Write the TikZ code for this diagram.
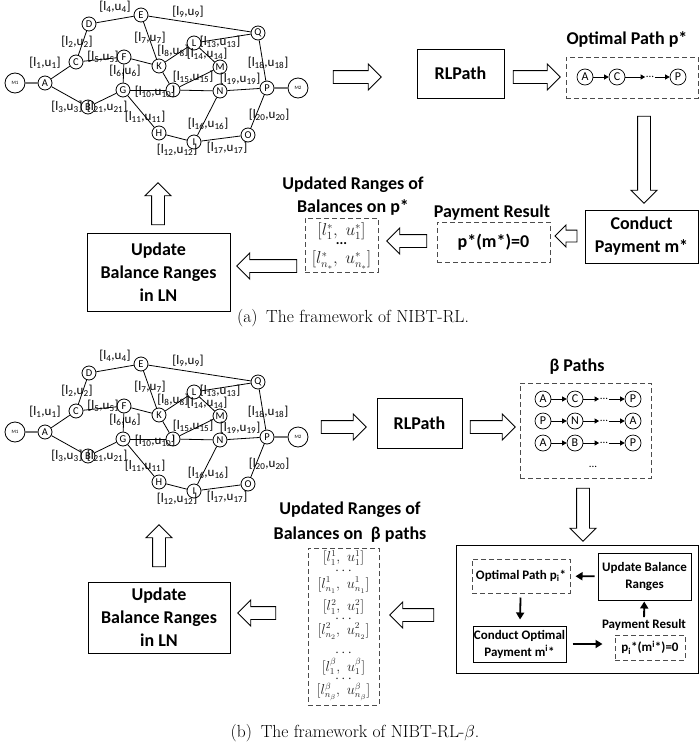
\documentclass[tikz,border=0pt]{standalone}
\usepackage{fontspec}
\newfontfamily\calibri{Carlito}
\usetikzlibrary{shapes.arrows,arrows.meta}

% lightning network with balance ranges, #1 = name prefix, #2 = vertical shift
\newcommand{\drawln}[2]{%
\begin{scope}[shift={(0,#2)}]
%% nodes or vertices
\foreach \nodename/\x/\y in {A/45/83, B/88/107, C/76/62, D/89/24, E/141/15, F/124/57, G/123/90, H/159/133, I/194/142, J/173/90, K/159/66, L/194/43, M/220/67, N/220/91, O/248/135, P/267/88, Q/258/33}
{
  \node (#1\nodename) at (\x,\y) [nodeDecorate] {\nodename};
}
\node (#1M1) at (15,83) [endDecorate] {M1};
\node (#1M2) at (298,88) [endDecorate] {M2};
%% edges or lines
\path
\foreach \startnode/\endnode in {A/C, C/D, D/E, E/Q, E/K, A/B, B/G, C/F, F/G, F/K, K/L, L/Q, L/M, K/J, J/M, G/J, J/N, N/P, Q/P, P/O, G/H, H/I, I/O, I/N}
{
  (#1\startnode) edge[lineDecorate] (#1\endnode)
};
\path (#1M1) edge[endLine] (#1A)
      (#1P) edge[endLine] (#1M2);
%% balance ranges of the channels
\foreach \i/\x/\y in {1/45/63, 2/77/42, 3/67/107, 4/115/7, 5/103/57, 6/125/71, 7/150/38, 8/173/51, 9/188/12, 10/155/92, 11/145/117, 12/177/150, 13/220/42, 14/207/54, 15/193/77, 16/208/124, 17/227/148, 18/268/63, 19/240/79, 20/269/115, 21/107/107}
{
  \node (#1lab\i) at (\x,\y) [labelDecorate] {[l\textsubscript{\i},u\textsubscript{\i}]};
}
\end{scope}}

\begin{document}
\begin{tikzpicture}
[x=1pt,y=-1pt,%
  lineDecorate/.style={-,line width=0.8pt},%
  endLine/.style={-,line width=1.6pt,black!55},%
  nodeDecorate/.style={shape=circle,inner sep=0pt,minimum size=14pt,draw,line width=0.8pt,font=\calibri\fontsize{10.5}{10.5}\selectfont},%
  endDecorate/.style={shape=circle,inner sep=0pt,minimum size=20pt,draw,line width=0.8pt,font=\calibri\fontsize{5}{5}\selectfont},%
  labelDecorate/.style={inner sep=0pt,font=\calibri\fontsize{13}{13}\selectfont},%
  boxDecorate/.style={draw,line width=1pt,inner sep=0pt,align=center,font=\calibri\bfseries\fontsize{18}{23}\selectfont},%
  dashDecorate/.style={boxDecorate,dash pattern=on 5pt off 3pt,draw=black!70},%
  titleDecorate/.style={inner sep=0pt,align=center,font=\calibri\bfseries\fontsize{18}{23}\selectfont},%
  smallBox/.style={boxDecorate,font=\calibri\bfseries\fontsize{13}{17}\selectfont},%
  dashSmall/.style={smallBox,dash pattern=on 5pt off 3pt,draw=black!70},%
  smallTitle/.style={titleDecorate,font=\calibri\bfseries\fontsize{13}{17}\selectfont},%
  pathNode/.style={shape=circle,inner sep=0pt,minimum size=16pt,draw,line width=0.7pt,font=\calibri\fontsize{12}{12}\selectfont},%
  dotsNode/.style={inner sep=0.5pt,font=\calibri\fontsize{11}{11}\selectfont},%
  smallArrow/.style={-{Triangle[length=4.5pt,width=5pt]},line width=0.8pt},%
  solidArrow/.style={-{Triangle[length=7pt,width=8pt]},line width=1.8pt},%
  hollowArrow/.style={single arrow,draw,line width=0.9pt,inner xsep=0pt,inner ysep=6pt,single arrow head extend=6.5pt,minimum height=#1},%
  rangeText/.style={inner sep=0pt,text=black!85,font=\fontsize{16}{16}\selectfont},%
  rangeDots/.style={inner sep=0pt,font=\calibri\bfseries\fontsize{14}{14}\selectfont},%
  rangeSmall/.style={inner sep=0pt,text=black!85,font=\fontsize{13.5}{13.5}\selectfont},%
  captionText/.style={inner sep=0pt,font=\fontsize{17.5}{17.5}\selectfont}]
\useasboundingbox (0,0) rectangle (700,747);
%% (a) the framework of NIBT-RL
\drawln{a}{0}
\node (arrA1) at (354,77) [hollowArrow=48pt] {};
\node (rlA) at (460.5,73.5) [boxDecorate,minimum width=87pt,minimum height=49pt] {RLPath};
\node (arrA2) at (533.5,77) [hollowArrow=47pt] {};
\node (optTitleA) at (627,39) [titleDecorate] {Optimal Path p*};
\node (optA) at (632,77.5) [dashDecorate,minimum width=132pt,minimum height=41pt] {};
\foreach \name/\x/\txt in {s/585/A, t/617/C, e/678/P}
{
  \node (optA\name) at (\x,77) [pathNode] {\txt};
}
\node (optAdots) at (650,77) [dotsNode] {...};
\draw[smallArrow] (optAs) -- (optAt);
\draw[smallArrow] (optAt) -- (optAdots);
\draw[smallArrow] (optAdots) -- (optAe);
\node (arrA3) at (644,156.5) [hollowArrow=87pt,rotate=-90] {};
\node (conA) at (641.5,236.5) [boxDecorate,minimum width=113pt,minimum height=53pt] {Conduct\\Payment m*};
\node (arrA4) at (569,236) [hollowArrow=22pt,inner ysep=5.5pt,single arrow head extend=5pt,rotate=180] {};
\node (resTitleA) at (492,213) [titleDecorate] {Payment Result};
\node (resA) at (493.5,242) [dashDecorate,minimum width=113pt,minimum height=40pt] {p*(m*)=0};
\node (arrA5) at (410,241) [hollowArrow=40pt,rotate=180] {};
\node (rngTitleA) at (353,196) [titleDecorate] {Updated Ranges of\\Balances on p*};
\node (rngA) at (341.5,245) [dashDecorate,minimum width=73pt,minimum height=54pt] {};
\node (rngA1) at (341.5,231) [rangeText] {$[l_1^*,\ u_1^*]$};
\node (rngA2) at (341.5,244) [rangeDots] {...};
\node (rngA3) at (341.5,260) [rangeText] {$[l_{n_*}^*,\ u_{n_*}^*]$};
\node (arrA6) at (270,266) [hollowArrow=60pt,rotate=180] {};
\node (lnA) at (158.5,272) [boxDecorate,minimum width=143pt,minimum height=78pt] {Update\\Balance Ranges\\in LN};
\node (arrA7) at (158,207) [hollowArrow=42pt,rotate=90] {};
\node (capA) at (353,318) [captionText] {(a)\enspace The framework of NIBT-RL.};
%% (b) the framework of NIBT-RL-beta
\drawln{b}{349}
\node (arrB1) at (340.5,427) [hollowArrow=45pt] {};
\node (rlB) at (419.5,423) [boxDecorate,minimum width=85pt,minimum height=50pt] {RLPath};
\node (arrB2) at (489.5,427) [hollowArrow=45pt] {};
\node (pathTitleB) at (577,367) [titleDecorate] {β Paths};
\node (pathB) at (585.5,430.5) [dashDecorate,minimum width=131pt,minimum height=95pt] {};
\foreach \row/\y/\firstnode/\secondnode/\lastnode in {1/399/A/C/P, 2/421/P/N/A, 3/443/A/B/P}
{
  \node (pathB\row s) at (543,\y) [pathNode] {\firstnode};
  \node (pathB\row t) at (575,\y) [pathNode] {\secondnode};
  \node (pathB\row d) at (604,\y) [dotsNode] {...};
  \node (pathB\row e) at (633,\y) [pathNode] {\lastnode};
  \draw[smallArrow] (pathB\row s) -- (pathB\row t);
  \draw[smallArrow] (pathB\row t) -- (pathB\row d);
  \draw[smallArrow] (pathB\row d) -- (pathB\row e);
}
\node (pathBmore) at (593,467) [dotsNode] {...};
\node (arrB3) at (583,511.5) [hollowArrow=53pt,rotate=-90] {};
\node (loopB) at (577,609) [boxDecorate,minimum width=242pt,minimum height=128pt] {};
\node (optB) at (521,576) [dashSmall,minimum width=98pt,minimum height=34pt] {Optimal Path p\textsubscript{i}*};
\node (updB) at (644.5,576.5) [smallBox,minimum width=93pt,minimum height=47pt] {Update Balance\\Ranges};
\node (conB) at (519.5,644) [smallBox,minimum width=93pt,minimum height=36pt] {Conduct Optimal\\Payment m\textsuperscript{i}*};
\node (resTitleB) at (644,625) [smallTitle] {Payment Result};
\node (resB) at (650,647.5) [dashSmall,minimum width=70pt,minimum height=25pt] {p\textsubscript{i}*(m\textsuperscript{i}*)=0};
\draw[solidArrow,shorten <=3pt,shorten >=5pt] (updB) -- (optB);
\draw[solidArrow,shorten <=4pt,shorten >=6pt] (optB) -- (conB);
\draw[solidArrow,shorten <=6pt,shorten >=12pt] (conB.east) -- (conB.east -| resB.west);
\draw[solidArrow,shorten <=2pt,shorten >=1pt] (resTitleB) -- (updB);
\node (arrB4) at (415,615) [hollowArrow=44pt,rotate=180] {};
\node (rngTitleB) at (350,522.5) [titleDecorate,font=\calibri\bfseries\fontsize{18}{25}\selectfont] {Updated Ranges of\\Balances on\ \ β paths};
\node (rngB) at (343.5,626.5) [dashDecorate,minimum width=71pt,minimum height=157pt] {};
\foreach \i/\y/\txt in {1/558/{$[l_1^1,\ u_1^1]$}, 2/571/{$\cdots$}, 3/585/{$[l_{n_1}^1,\ u_{n_1}^1]$}, 4/607/{$[l_1^2,\ u_1^2]$}, 5/619/{$\cdots$}, 6/631/{$[l_{n_2}^2,\ u_{n_2}^2]$}, 7/653/{$\cdots$}, 8/667/{$[l_1^\beta,\ u_1^\beta]$}, 9/679/{$\cdots$}, 10/692/{$[l_{n_\beta}^\beta,\ u_{n_\beta}^\beta]$}}
{
  \node (rngB\i) at (343.5,\y) [rangeSmall] {\txt};
}
\node (arrB5) at (260,613) [hollowArrow=38pt,rotate=180] {};
\node (lnB) at (159,617.5) [boxDecorate,minimum width=142pt,minimum height=71pt] {Update\\Balance Ranges\\in LN};
\node (arrB6) at (159,549) [hollowArrow=42pt,rotate=90] {};
\node (capB) at (355,733) [captionText] {(b)\enspace The framework of NIBT-RL-$\beta$.};
\end{tikzpicture}
\end{document}
